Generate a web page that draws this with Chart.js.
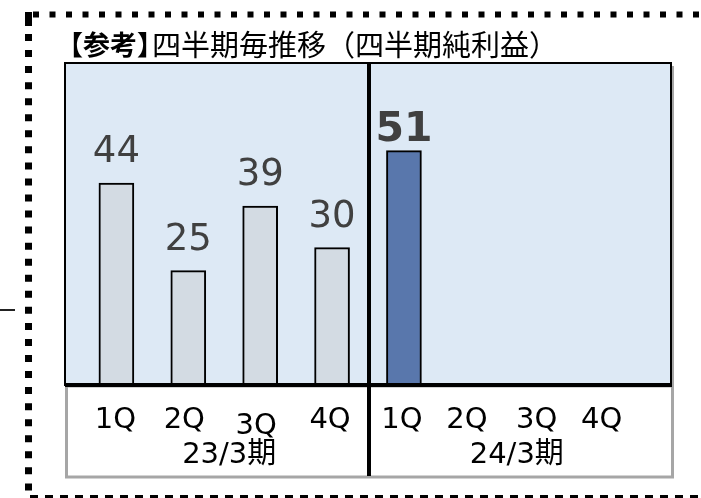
<!DOCTYPE html>
<html>
<head>
<meta charset="utf-8">
<script src="https://cdn.jsdelivr.net/npm/chart.js@4"></script>
<style>
  html, body { margin: 0; padding: 0; background: #fff; }
  canvas { display: block; }
</style>
</head>
<body>
<canvas id="chart" width="701" height="498"></canvas>
<script>
// data
const quarters = ['1Q', '2Q', '3Q', '4Q', '1Q', '2Q', '3Q', '4Q'];
const periods = ['23/3期', '24/3期'];
const profits = [44, 25, 39, 30, 51, null, null, null];
const titleBold = '【参考】';
const titleRest = '四半期毎推移（四半期純利益）';

const latest = 4; // highlighted quarter
const GRAY = '#d3dbe3', BLUE = '#5977ac', PLOT_BG = '#dde9f5';

// small nudges so labels sit where they do in the picture
const tickNudge = [-1, -4, -4, -2, -2, -9, -11, -18];
const tickDrop = [0, 0, 6, 0, 0, 0, 0, 0];

function dashedLine(ctx, x1, y1, x2, y2, width, dash, color) {
  ctx.save();
  ctx.strokeStyle = color;
  ctx.lineWidth = width;
  ctx.setLineDash(dash);
  ctx.beginPath();
  ctx.moveTo(x1, y1);
  ctx.lineTo(x2, y2);
  ctx.stroke();
  ctx.restore();
}

const framePlugin = {
  id: 'frame',
  beforeDatasetsDraw(chart) {
    const { ctx, chartArea: a } = chart;
    ctx.save();
    ctx.fillStyle = PLOT_BG;
    ctx.fillRect(a.left, a.top, a.right - a.left, a.bottom - a.top);
    ctx.restore();
  },
  afterDatasetsDraw(chart) {
    const { ctx, chartArea: a, scales } = chart;
    const x = scales.x;
    ctx.save();

    // label box under the plot
    ctx.strokeStyle = '#a6a6a6';
    ctx.lineWidth = 3;
    ctx.strokeRect(a.left + 1.5, a.bottom, a.right - a.left, 91);
    ctx.lineWidth = 2;
    ctx.beginPath();
    ctx.moveTo(a.right + 2, a.top + 3);
    ctx.lineTo(a.right + 2, a.bottom);
    ctx.stroke();

    // plot border
    ctx.strokeStyle = '#000';
    ctx.lineWidth = 2;
    ctx.beginPath();
    ctx.moveTo(a.left, a.bottom);
    ctx.lineTo(a.left, a.top);
    ctx.lineTo(a.right, a.top);
    ctx.lineTo(a.right, a.bottom);
    ctx.stroke();

    // baseline
    ctx.lineWidth = 4;
    ctx.beginPath();
    ctx.moveTo(a.left, a.bottom - 1);
    ctx.lineTo(a.right + 1, a.bottom - 1);
    ctx.stroke();

    // divider between the two periods
    const dx = Math.round(x.getPixelForValue(3.5)) + 1;
    ctx.beginPath();
    ctx.moveTo(dx, a.top);
    ctx.lineTo(dx, a.bottom + 90);
    ctx.stroke();

    // value labels
    const meta = chart.getDatasetMeta(0);
    ctx.textAlign = 'center';
    ctx.textBaseline = 'alphabetic';
    ctx.fillStyle = '#404040';
    meta.data.forEach((bar, i) => {
      const v = profits[i];
      if (v == null) return;
      if (i === latest) {
        ctx.font = 'bold 41px "DejaVu Sans"';
        ctx.fillText(String(v), bar.x, bar.y - 10);
      } else {
        ctx.font = '37px "DejaVu Sans"';
        ctx.fillText(String(v), bar.x, bar.y - 21);
      }
    });

    // category labels
    ctx.fillStyle = '#000';
    ctx.font = '29px "DejaVu Sans", "Noto Sans CJK JP"';
    quarters.forEach((q, i) => {
      ctx.fillText(q, x.getPixelForValue(i) + tickNudge[i], a.bottom + 42 + tickDrop[i]);
    });
    periods.forEach((p, j) => {
      ctx.fillText(p, x.getPixelForValue(1.5 + j * 4) + 5, a.bottom + 77);
    });

    // title
    ctx.textAlign = 'left';
    ctx.font = 'bold 27px "Noto Sans CJK JP"';
    ctx.fillText(titleBold, 56, 55);
    const w = ctx.measureText(titleBold).width;
    ctx.font = '29px "Noto Sans CJK JP"';
    ctx.fillText(titleRest, 56 + w - 12, 56);

    // dotted / dashed outer frame
    dashedLine(ctx, 33, 14.5, 701, 14.5, 6, [6, 10.5], '#000');
    dashedLine(ctx, 28.5, 12, 28.5, 26, 7, [], '#000');
    dashedLine(ctx, 28.5, 34, 28.5, 492, 7, [7, 9.05], '#000');
    dashedLine(ctx, 30, 496.5, 701, 496.5, 3, [8, 7], '#000');

    // stray tick at the far left
    ctx.strokeStyle = '#222';
    ctx.lineWidth = 2;
    ctx.beginPath();
    ctx.moveTo(0, 310);
    ctx.lineTo(15, 310);
    ctx.stroke();

    ctx.restore();
  }
};

new Chart(document.getElementById('chart'), {
  type: 'bar',
  data: {
    datasets: [{
      data: profits.map((v, i) => ({ x: i, y: v })),
      backgroundColor: profits.map((v, i) => i === latest ? BLUE : GRAY),
      borderColor: '#000',
      borderWidth: 2,
      borderSkipped: 'bottom',
      barThickness: 35
    }]
  },
  options: {
    responsive: false,
    animation: false,
    devicePixelRatio: 1,
    layout: { padding: { left: 65, top: 63, right: 30, bottom: 112 } },
    scales: {
      x: { type: 'linear', min: -0.715, max: 7.715, offset: false, display: false },
      y: { min: 0, max: 70, display: false }
    },
    plugins: {
      legend: { display: false },
      tooltip: { enabled: false }
    }
  },
  plugins: [framePlugin]
});
</script>
</body>
</html>
